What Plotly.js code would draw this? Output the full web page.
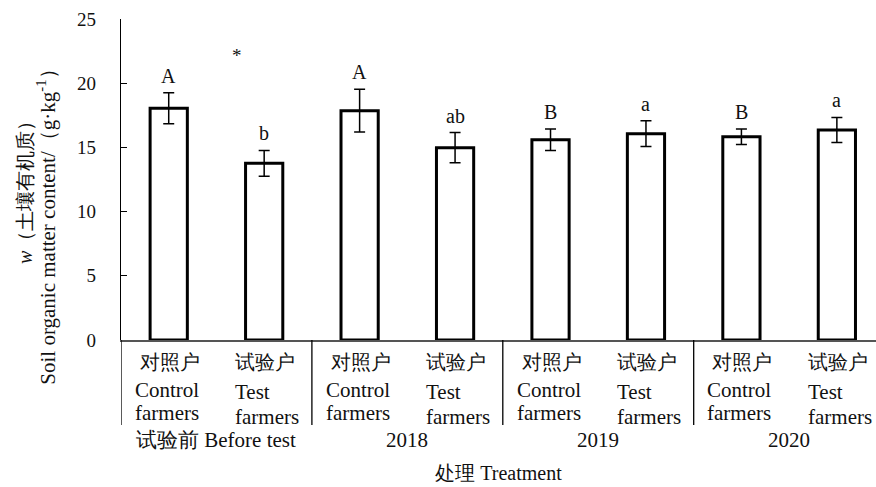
<!DOCTYPE html>
<html>
<head>
<meta charset="utf-8">
<script src="https://cdn.plot.ly/plotly-3.0.1.min.js"></script>
<style>
  html, body { margin: 0; padding: 0; background: #fff; }
  #chart { width: 876px; height: 487px; }
</style>
</head>
<body>
<div id="chart"></div>
<script>
// Soil organic matter by period and farmer type
const periods = ['试验前 Before test', '2018', '2019', '2020'];
const farmerCn = ['对照户', '试验户'];
const farmerEn1 = ['Control', 'Test'];
const farmerEn2 = ['farmers', 'farmers'];

// one value per bar, in period order: control, test
const somMean = [18.05, 13.76, 17.86, 14.98, 15.60, 16.07, 15.83, 16.36];
const somSd   = [1.20, 1.00, 1.67, 1.18, 0.84, 1.00, 0.60, 0.97];
const sigLetters = ['A', 'b', 'A', 'ab', 'B', 'a', 'B', 'a'];

const FONT = 'Liberation Serif, serif';
const INK = '#111';

const barX = somMean.map((_, i) => i);

const trace = {
  type: 'bar',
  x: barX,
  y: somMean,
  width: 0.39,
  marker: { color: '#ffffff', line: { color: '#000', width: 3 } },
  error_y: { type: 'data', array: somSd, visible: true, color: '#000', thickness: 1.5, width: 5.5 },
  hoverinfo: 'skip'
};

const annotations = [];
const txt = (size) => ({ family: FONT, size: size, color: INK });

// significance letters above error bars
sigLetters.forEach((t, i) => {
  annotations.push({
    x: barX[i], y: somMean[i] + somSd[i], xref: 'x', yref: 'y',
    text: t, showarrow: false, xanchor: 'center', yanchor: 'bottom', yshift: 4,
    font: txt(20)
  });
});

// asterisk marking the pre-test difference
annotations.push({
  x: 0.72, y: 22.15, xref: 'x', yref: 'y', text: '*', showarrow: false,
  xanchor: 'center', yanchor: 'middle', font: txt(19)
});

// farmer-type labels under each bar: three left-aligned lines
barX.forEach((xv, i) => {
  const k = i % 2;
  const left = k === 0 ? -36 : -31;
  annotations.push({
    x: xv, y: 0, xref: 'x', yref: 'paper', text: farmerCn[k], showarrow: false,
    xanchor: 'left', xshift: -31, yanchor: 'middle', yshift: -22, font: txt(20)
  });
  annotations.push({
    x: xv, y: 0, xref: 'x', yref: 'paper', text: farmerEn1[k], showarrow: false,
    xanchor: 'left', xshift: left, yanchor: 'middle', yshift: k === 0 ? -50 : -52, font: txt(21)
  });
  annotations.push({
    x: xv, y: 0, xref: 'x', yref: 'paper', text: farmerEn2[k], showarrow: false,
    xanchor: 'left', xshift: left, yanchor: 'middle', yshift: k === 0 ? -73 : -77, font: txt(21)
  });
});

// period labels
periods.forEach((p, g) => {
  annotations.push({
    x: 2 * g + 0.5, y: 0, xref: 'x', yref: 'paper',
    text: p, showarrow: false, xanchor: 'center', yanchor: 'middle', yshift: -100,
    font: txt(21)
  });
});

// y-axis title, two lines
annotations.push({
  x: -0.128, y: 0.475, xref: 'paper', yref: 'paper', textangle: -90,
  text: '<i>w</i>（土壤有机质）', showarrow: false, xanchor: 'center', yanchor: 'middle',
  font: txt(20)
});
annotations.push({
  x: -0.0987, y: 0.37, xref: 'paper', yref: 'paper', textangle: -90,
  text: 'Soil organic matter content/（g·kg<sup>-1</sup>）', showarrow: false,
  xanchor: 'center', yanchor: 'middle',
  font: txt(21)
});

// group separators extending below the category axis
const shapes = [-0.5, 1.5, 3.5, 5.5].map(xv => ({
  type: 'line', xref: 'x', yref: 'paper', x0: xv, x1: xv, y0: 0, y1: -0.265,
  line: { color: '#000', width: 1.3 }
}));

const layout = {
  width: 876, height: 487,
  margin: { l: 121, r: 0, t: 19, b: 147 },
  paper_bgcolor: '#fff', plot_bgcolor: '#fff',
  showlegend: false,
  font: { family: FONT, color: INK },
  xaxis: {
    range: [-0.5, 7.41], showgrid: false, zeroline: false,
    showticklabels: false, ticks: '',
    showline: true, linecolor: '#555', linewidth: 1.5,
    title: { text: '处理 Treatment', font: txt(20), standoff: 125 },
    automargin: false
  },
  yaxis: {
    range: [0, 25], tickvals: [0, 5, 10, 15, 20, 25],
    showgrid: false, zeroline: false,
    showline: true, linecolor: '#000', linewidth: 1.3,
    ticks: 'inside', ticklen: 6, tickwidth: 1.3, tickcolor: '#000',
    ticklabelstandoff: 20,
    tickfont: txt(19),
    automargin: false
  },
  annotations: annotations,
  shapes: shapes
};

Plotly.newPlot('chart', [trace], layout, { displayModeBar: false, staticPlot: true });
</script>
</body>
</html>
